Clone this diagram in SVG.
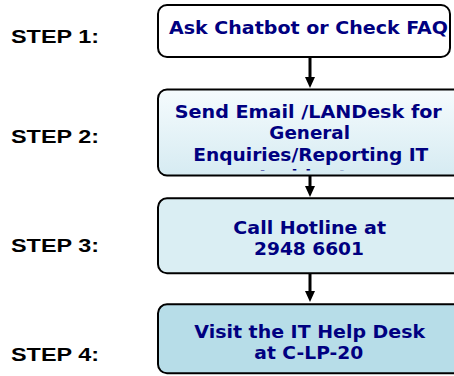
<svg xmlns="http://www.w3.org/2000/svg" width="454" height="376" viewBox="0 0 454 376">
<style>
.step{font-family:"Liberation Sans",Arial,sans-serif;font-weight:bold;font-size:17.5px;fill:#000}
.box{stroke:#000;stroke-width:2}
.t{font-family:"DejaVu Sans","Liberation Sans",sans-serif;font-weight:bold;font-size:18.5px;fill:#000080;text-anchor:middle}
.conn{stroke:#000;stroke-width:3;fill:none}
</style>
<defs>
<linearGradient id="g2" x1="0" y1="0" x2="0" y2="1">
<stop offset="0" stop-color="#f5fbfd"/>
<stop offset="1" stop-color="#d6ebf2"/>
</linearGradient>
<clipPath id="c2"><rect x="158" y="90" width="296" height="80.5"/></clipPath>
<marker id="ah" viewBox="0 0 11 10" refX="2" refY="5" markerWidth="11" markerHeight="10" markerUnits="userSpaceOnUse" orient="auto">
<path d="M0,0 L11,5 L0,10 z" fill="#000"/>
</marker>
</defs>

<g id="labels">
<text class="step" x="11" y="42.7" textLength="88" lengthAdjust="spacingAndGlyphs">STEP 1:</text>
<text class="step" x="11" y="143.3" textLength="88" lengthAdjust="spacingAndGlyphs">STEP 2:</text>
<text class="step" x="11" y="252.3" textLength="88" lengthAdjust="spacingAndGlyphs">STEP 3:</text>
<text class="step" x="11" y="360.7" textLength="88" lengthAdjust="spacingAndGlyphs">STEP 4:</text>
</g>

<g id="connectors">
<line class="conn" x1="310" y1="57" x2="310" y2="79" marker-end="url(#ah)"/>
<line class="conn" x1="310" y1="175" x2="310" y2="188" marker-end="url(#ah)"/>
<line class="conn" x1="310" y1="273" x2="310" y2="293" marker-end="url(#ah)"/>
</g>

<g id="node1">
<rect class="box" x="158" y="5" width="292" height="52" rx="9" fill="#fff"/>
<text class="t" x="308.5" y="34.3" textLength="279" lengthAdjust="spacingAndGlyphs">Ask Chatbot or Check FAQ</text>
</g>

<g id="node2">
<rect class="box" x="158" y="89.5" width="305" height="86" rx="9" fill="url(#g2)"/>
<g clip-path="url(#c2)">
<text class="t" x="308.3" y="117.7" textLength="267" lengthAdjust="spacingAndGlyphs">Send Email /LANDesk for</text>
<text class="t" x="309.7" y="139.4" textLength="80.7" lengthAdjust="spacingAndGlyphs">General</text>
<text class="t" x="310.8" y="161.1" textLength="235" lengthAdjust="spacingAndGlyphs">Enquiries/Reporting IT</text>
<text class="t" x="309" y="182.8" textLength="100" lengthAdjust="spacingAndGlyphs">Incidents</text>
</g>
</g>

<g id="node3">
<rect class="box" x="158" y="198.3" width="305" height="75" rx="9" fill="#daeef3"/>
<text class="t" x="309.7" y="234.3" textLength="152.7" lengthAdjust="spacingAndGlyphs">Call Hotline at</text>
<text class="t" x="309" y="255" textLength="110" lengthAdjust="spacingAndGlyphs">2948 6601</text>
</g>

<g id="node4">
<rect class="box" x="158" y="304.3" width="305" height="69" rx="9" fill="#b7dde8"/>
<text class="t" x="309.7" y="338.3" textLength="230.7" lengthAdjust="spacingAndGlyphs">Visit the IT Help Desk</text>
<text class="t" x="308.8" y="359" textLength="109" lengthAdjust="spacingAndGlyphs">at C-LP-20</text>
</g>
</svg>
